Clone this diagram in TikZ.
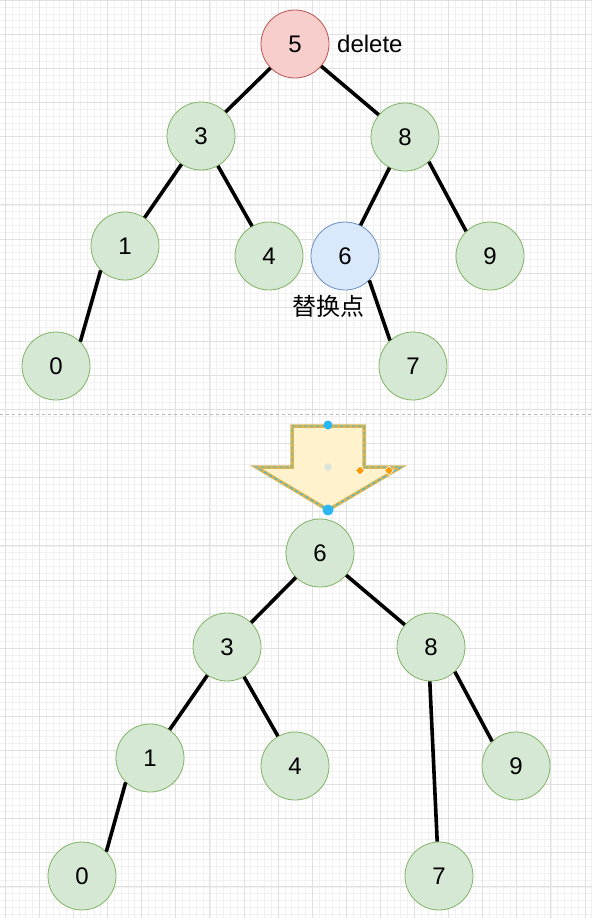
\documentclass[tikz,border=0pt]{standalone}
\usepackage{fontspec}
\setmainfont{Liberation Sans}
\newfontfamily\cjk{Noto Sans CJK SC}
\definecolor{gfill}{HTML}{D5E8D4}
\definecolor{gline}{HTML}{82B366}
\definecolor{rfill}{HTML}{F8CECC}
\definecolor{rline}{HTML}{B85450}
\definecolor{bfill}{HTML}{DAE8FC}
\definecolor{bline}{HTML}{6C8EBF}
\definecolor{yfill}{HTML}{FFF2CC}
\definecolor{yline}{HTML}{D6B656}
\definecolor{selblue}{HTML}{29B6F2}
\definecolor{handorange}{HTML}{FF9900}
\definecolor{gridminor}{HTML}{F1F1F1}
\definecolor{gridmajor}{HTML}{E0E0E0}
\begin{document}
\begin{tikzpicture}[x=1pt,y=-1pt,
  tnode/.style={circle,draw=gline,fill=gfill,line width=0.8pt,minimum size=68pt,inner sep=0pt,font=\fontsize{24}{28}\selectfont},
  delnode/.style={tnode,draw=rline,fill=rfill},
  repnode/.style={tnode,draw=bline,fill=bfill},
  edge/.style={line width=3.6pt,black},
  lbl/.style={font=\fontsize{24}{28}\selectfont,inner sep=0pt},
]
\useasboundingbox (0,0) rectangle (592,918);
\fill[white] (0,0) rectangle (592,918);
% grid
\foreach \i in {0,...,90} {
  \draw[gridminor,line width=0.6pt] ({5.2+6.82*(\i-1)},0) -- ({5.2+6.82*(\i-1)},918);
}
\foreach \i in {0,...,140} {
  \draw[gridminor,line width=0.6pt] (0,{0.2+6.82*\i}) -- (592,{0.2+6.82*\i});
}
\foreach \i in {0,...,18} {
  \draw[gridmajor,line width=0.8pt] ({5.2+34.1*\i},0) -- ({5.2+34.1*\i},918);
}
\foreach \i in {0,...,27} {
  \draw[gridmajor,line width=0.8pt] (0,{0.2+34.1*\i}) -- (592,{0.2+34.1*\i});
}
% separator
\draw[gray!55,dashed,line width=0.7pt] (0,414) -- (592,414);

% top tree
\node[delnode] (t5) at (295,44) {5};
\node[lbl,anchor=west] (tdel) at (337,44) {delete};
\node[tnode] (t3) at (201,136) {3};
\node[tnode] (t8) at (405,137) {8};
\node[tnode] (t1) at (125,246) {1};
\node[tnode] (t4) at (269,256) {4};
\node[repnode] (t6) at (345,256) {6};
\node[tnode] (t9) at (490,256) {9};
\node[lbl] (trep) at (328,306) {\cjk 替换点};
\node[tnode] (t0) at (56,366) {0};
\node[tnode] (t7) at (413,366) {7};
\draw[edge] (t5) -- (t3);
\draw[edge] (t5) -- (t8);
\draw[edge] (t3) -- (t1);
\draw[edge] (t3) -- (t4);
\draw[edge] (t8) -- (t6);
\draw[edge] (t8.314) -- (t9.134);
\draw[edge] (t1.225) -- (t0.45);
\draw[edge] (t6.315) -- (t7.132);

% arrow
\coordinate (a1) at (292,426);
\coordinate (a2) at (364,426);
\coordinate (a3) at (364,467);
\coordinate (a4) at (401,467);
\coordinate (a5) at (328,510);
\coordinate (a6) at (256,467);
\coordinate (a7) at (292,467);
\draw[yline,fill=yfill,line width=3.5pt,line join=miter] (a1) -- (a2) -- (a3) -- (a4) -- (a5) -- (a6) -- (a7) -- cycle;
\draw[selblue,line width=0.9pt,dash pattern=on 3pt off 3pt] (a1) -- (a2) -- (a3) -- (a4) -- (a5) -- (a6) -- (a7) -- cycle;
\fill[gfill!80!gray!60] (328,467) circle (3.8pt);
\fill[selblue] (328,425) circle (4.5pt);
\fill[selblue] (328,510) circle (5.5pt);
\draw[white,fill=handorange,line width=0.6pt] (360,466) -- (364.5,470.5) -- (360,475) -- (355.5,470.5) -- cycle;
\draw[white,fill=handorange,line width=0.6pt] (389,466) -- (393.5,470.5) -- (389,475) -- (384.5,470.5) -- cycle;

% bottom tree
\node[tnode] (b6) at (320,553) {6};
\node[tnode] (b3) at (227,647) {3};
\node[tnode] (b8) at (431,647) {8};
\node[tnode] (b1) at (150,758) {1};
\node[tnode] (b4) at (295,766) {4};
\node[tnode] (b9) at (516,766) {9};
\node[tnode] (b0) at (82,876) {0};
\node[tnode] (b7) at (439,876) {7};
\draw[edge] (b6) -- (b3);
\draw[edge] (b6) -- (b8);
\draw[edge] (b3) -- (b1);
\draw[edge] (b3) -- (b4);
\draw[edge] (b8.268) -- (b7.93);
\draw[edge] (b8.314) -- (b9.134);
\draw[edge] (b1.225) -- (b0.45);
\end{tikzpicture}
\end{document}
